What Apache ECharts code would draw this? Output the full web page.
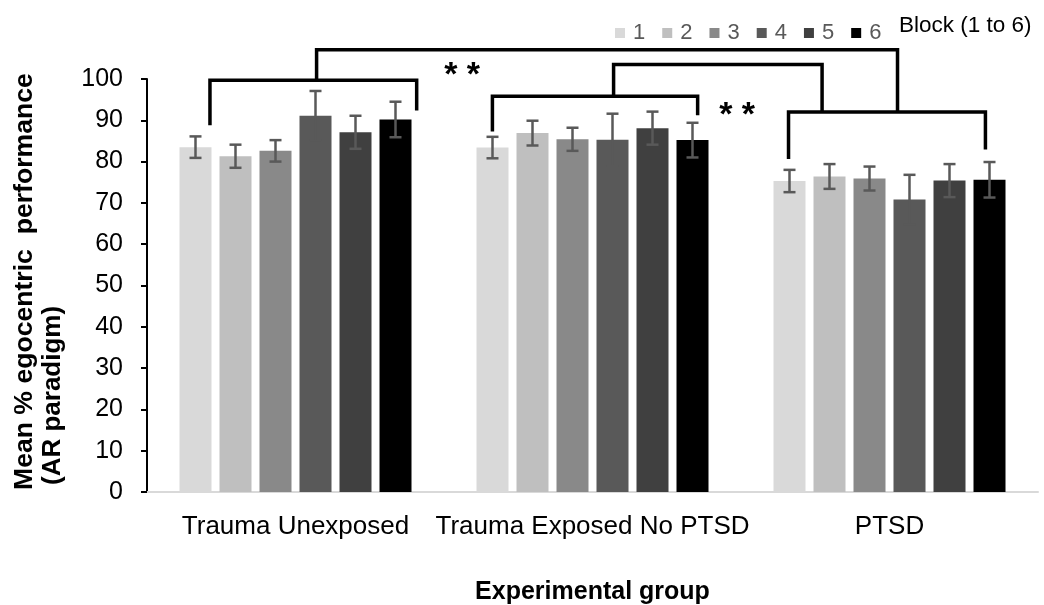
<!DOCTYPE html>
<html><head><meta charset="utf-8">
<script src="https://cdn.jsdelivr.net/npm/echarts@6/dist/echarts.min.js"></script>
<style>html,body{margin:0;padding:0;background:#fff}#c{width:1044px;height:605px}</style>
</head><body><div id="c"></div>
<script>
// ---- data ----
const categories = ['Trauma Unexposed', 'Trauma Exposed No PTSD', 'PTSD'];
const blockNames = ['1', '2', '3', '4', '5', '6'];
const block1 = [83.5, 83.4, 75.3];
const block2 = [81.3, 86.9, 76.4];
const block3 = [82.6, 85.4, 75.9];
const block4 = [91.1, 85.3, 70.8];
const block5 = [87.1, 88.1, 75.4];
const block6 = [90.2, 85.2, 75.6];
const err1 = [2.6, 2.6, 2.7];
const err2 = [2.8, 3.0, 3.0];
const err3 = [2.6, 2.8, 2.9];
const err4 = [6.0, 6.3, 6.0];
const err5 = [4.0, 4.0, 4.0];
const err6 = [4.3, 4.2, 4.3];
const yTicks = [0, 10, 20, 30, 40, 50, 60, 70, 80, 90, 100];
// significance brackets: points as [category index, offset within category band, value]
const bracketUnexposed = [[0, -0.288, 88.8], [0, -0.288, 99.7], [0, 0.408, 99.7], [0, 0.408, 92.4]];
const bracketExposed = [[1, -0.337, 87.3], [1, -0.337, 95.8], [1, 0.354, 95.8], [1, 0.354, 91.2]];
const bracketPTSD = [[2, -0.340, 80.6], [2, -0.340, 92.0], [2, 0.323, 92.0], [2, 0.323, 82.9]];
const linkTop = [[0, 0.071, 99.7], [0, 0.071, 107.1], [2, 0.027, 107.1], [2, 0.027, 92.0]];
const linkMid = [[1, 0.071, 95.8], [1, 0.071, 103.5], [2, -0.227, 103.5], [2, -0.227, 92.0]];
const sigMarks = [[0, 0.561, 100.8, '* *'], [1, 0.487, 91.2, '* *']];

// ---- build ----
const means = [block1, block2, block3, block4, block5, block6];
const errs = [err1, err2, err3, err4, err5, err6];
const brackets = [bracketUnexposed, bracketExposed, bracketPTSD, linkTop, linkMid];
const colors = ['#d9d9d9', '#bfbfbf', '#898989', '#595959', '#404040', '#000000'];
const BAR_W = 32, BAR_STEP = 40;
const font = 'Liberation Sans, Arial, sans-serif';

const chart = echarts.init(document.getElementById('c'));
const series = [];
blockNames.forEach((name, i) => {
  series.push({
    name: name, type: 'bar', data: means[i], barWidth: BAR_W, barGap: '25%',
    itemStyle: { color: colors[i] }, z: 2
  });
});
blockNames.forEach((name, i) => {
  series.push({
    type: 'custom', z: 5, clip: false, silent: true,
    data: categories.map((c, k) => [k, means[i][k], errs[i][k]]),
    encode: { x: 0, y: 1 },
    renderItem: function (params, api) {
      const k = api.value(0), m = api.value(1), e = api.value(2);
      const off = (i - 2.5) * BAR_STEP;
      const top = api.coord([k, m + e]);
      const bot = api.coord([k, m - e]);
      const x = top[0] + off, hw = 6;
      const st = { stroke: '#595959', lineWidth: 2.5 };
      return { type: 'group', children: [
        { type: 'line', shape: { x1: x, y1: top[1], x2: x, y2: bot[1] }, style: st },
        { type: 'line', shape: { x1: x - hw, y1: top[1], x2: x + hw, y2: top[1] }, style: st },
        { type: 'line', shape: { x1: x - hw, y1: bot[1], x2: x + hw, y2: bot[1] }, style: st }
      ] };
    }
  });
});
function pt(api, p) {
  const c = api.coord([p[0], p[2]]);
  const bw = api.size([1, 0])[0];
  return [c[0] + p[1] * bw, c[1]];
}
series.push({
  type: 'custom', z: 6, clip: false, silent: true,
  data: brackets.map((b, i) => [i, 0]),
  encode: { x: -1, y: -1 },
  renderItem: function (params, api) {
    const b = brackets[params.dataIndex];
    return { type: 'polyline', shape: { points: b.map(p => pt(api, p)) },
      style: { stroke: '#000', lineWidth: 3.5, fill: null, lineJoin: 'miter' } };
  }
});
series.push({
  type: 'custom', z: 6, clip: false, silent: true,
  data: sigMarks.map((s, i) => [i, 0]),
  encode: { x: -1, y: -1 },
  renderItem: function (params, api) {
    const s = sigMarks[params.dataIndex];
    const p = pt(api, s);
    return { type: 'text', x: p[0], y: p[1],
      style: { text: s[3], textAlign: 'center', textVerticalAlign: 'middle',
        font: 'bold 34px ' + font, fill: '#000' } };
  }
});

chart.setOption({
  animation: false,
  textStyle: { fontFamily: font },
  grid: { left: 147, right: 6, top: 79, bottom: 113, containLabel: false, outerBoundsMode: 'none' },
  legend: {
    data: blockNames, left: 610, top: 17, itemWidth: 10, itemHeight: 10, itemGap: 17,
    icon: 'rect', textStyle: { fontSize: 22, color: '#595959', padding: [0, 0, 0, 3] }
  },
  xAxis: {
    type: 'category', data: categories,
    axisLine: { lineStyle: { color: '#d9d9d9', width: 2 } },
    axisTick: { show: false },
    axisLabel: { fontSize: 26, color: '#000', margin: 22, interval: 0 },
    name: 'Experimental group', nameLocation: 'middle', nameGap: 88,
    nameTextStyle: { fontSize: 25, fontWeight: 'bold', color: '#000' }
  },
  yAxis: {
    type: 'value', min: yTicks[0], max: yTicks[yTicks.length - 1], interval: 10,
    splitLine: { show: false },
    axisLine: { show: true, lineStyle: { color: '#000', width: 2 } },
    axisTick: { show: true, length: 6, lineStyle: { color: '#000', width: 2 } },
    axisLabel: { fontSize: 25, color: '#000', margin: 24 }
  },
  graphic: [
    { type: 'text', x: 25, y: 490, rotation: Math.PI / 2,
      style: { text: 'Mean % egocentric  performance', textAlign: 'left', textVerticalAlign: 'middle',
        font: 'bold 26.6px ' + font, fill: '#000' } },
    { type: 'text', x: 53, y: 485, rotation: Math.PI / 2,
      style: { text: '(AR paradigm)', textAlign: 'left', textVerticalAlign: 'middle',
        font: 'bold 26px ' + font, fill: '#000' } },
    { type: 'text', x: 899, y: 26,
      style: { text: 'Block (1 to 6)', textAlign: 'left', textVerticalAlign: 'middle',
        font: '22.5px ' + font, fill: '#000' } }
  ],
  series: series
});
</script></body></html>
